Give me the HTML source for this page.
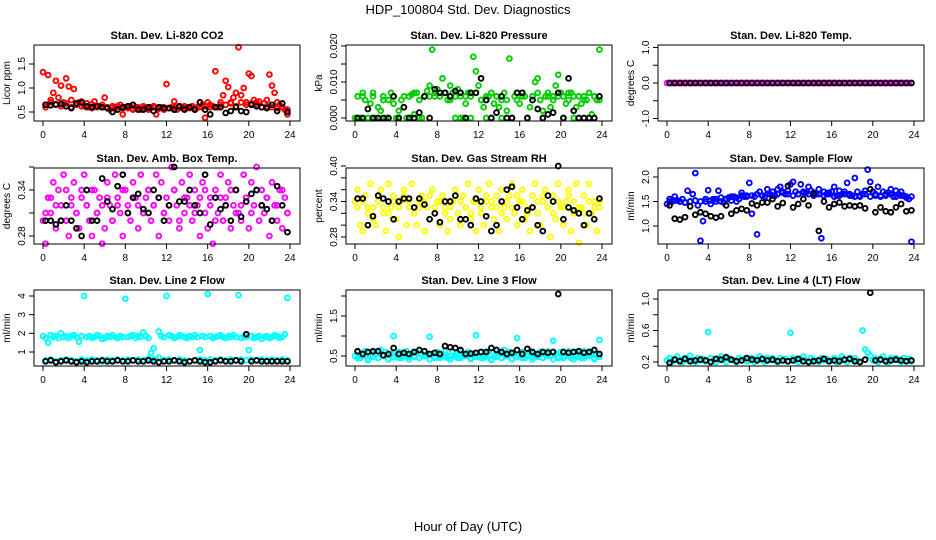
<!DOCTYPE html>
<html><head><meta charset="utf-8"><style>
body{margin:0;background:#fff;}
svg{display:block;font-family:"Liberation Sans",sans-serif;}
</style></head><body>
<svg id="c" width="936" height="540" viewBox="0 0 936 540">
<text x="468" y="14" text-anchor="middle" font-size="13">HDP_100804  Std. Dev. Diagnostics</text>
<text x="468" y="531" text-anchor="middle" font-size="13">Hour of Day (UTC)</text>
</svg>
<script>
const xTicks=[0,4,8,12,16,20,24];
const co2Red=[1.33,0.65,1.27,0.75,0.9,1.15,0.8,1.05,0.7,1.2,1.03,0.75,0.98,0.65,0.7,0.72,0.62,0.68,0.6,0.66,0.72,0.6,0.62,0.65,0.8,0.6,0.55,0.62,0.58,0.6,0.65,0.45,0.6,0.58,0.62,0.55,0.6,0.58,0.55,0.6,0.58,0.55,0.6,0.62,0.45,0.58,0.6,0.55,1.08,0.58,0.6,0.72,0.55,0.6,0.58,0.62,0.6,0.58,0.62,0.55,0.6,0.7,0.65,0.38,0.7,0.6,0.62,1.35,0.6,0.65,0.85,1.15,1.02,0.7,0.8,0.9,1.85,0.85,1.0,0.7,1.3,1.25,0.75,0.7,0.72,0.6,0.68,0.75,1.28,1.05,0.9,0.7,0.65,0.6,0.55,0.45];
const co2Red2=[0.6,0.7,0.65,0.62,0.68,0.6,0.65,0.62,0.6,0.58,0.62,0.6,0.58,0.6,0.62,0.58,0.6,0.57,0.6,0.62,0.58,0.6,0.57,0.6,0.58,0.6,0.62,0.58,0.6,0.58,0.6,0.62,0.65,0.6,0.7,0.65,0.68,0.62,0.7,0.65,0.68,0.65,0.6,0.62,0.6,0.58,0.6,0.55];
const co2Black=[0.65,0.64,0.66,0.67,0.62,0.58,0.68,0.7,0.62,0.6,0.62,0.6,0.58,0.5,0.55,0.6,0.62,0.65,0.55,0.55,0.6,0.52,0.6,0.58,0.58,0.55,0.62,0.55,0.6,0.55,0.7,0.55,0.45,0.6,0.6,0.48,0.52,0.6,0.52,0.5,0.65,0.62,0.6,0.58,0.65,0.52,0.68,0.5];
const presGreen=[0,0.006,0,0.007,0.005,0,0.004,0.006,0,0.003,0.002,0.006,0,0.005,0.007,0.004,0,0.002,0.005,0.003,0,0.006,0.0065,0.001,0.007,0.005,0,0.006,0.0075,0.009,0.019,0.006,0.008,0.006,0.011,0.007,0.005,0.009,0.007,0,0.008,0.006,0,0.004,0.007,0.006,0.017,0.013,0.009,0.005,0.003,0,0.006,0.007,0.004,0.006,0.003,0.005,0.007,0.002,0.0165,0,0.006,0.005,0.004,0.007,0.006,0,0.003,0.006,0.010,0.011,0.005,0.002,0.006,0.007,0.003,0.006,0.009,0.012,0.007,0.006,0.004,0.005,0.007,0.006,0.003,0.006,0.004,0.006,0.005,0.007,0.001,0.006,0.005,0.019];
const presGreen2=[0,0.006,0,0.007,0,0.005,0,0.006,0,0.006,0,0.007,0,0.006,0.006,0.007,0.006,0.007,0.005,0.006,0,0.006,0,0.007,0.005,0.006,0,0.006,0,0.005,0,0.007,0.006,0,0.006,0.007,0,0.006,0.005,0.006,0,0.007,0,0.006,0.005,0,0.006,0.005];
const presBlack=[0,0,0.0025,0,0,0,0,0.006,0,0.003,0,0,0.0015,0.006,0,0.008,0.007,0.007,0.006,0.0075,0.007,0,0.007,0.007,0.011,0.005,0,0.0015,0.006,0,0,0.007,0.007,0,0.005,0.0025,0,0.001,0.0015,0.007,0,0.011,0.002,0,0,0,0,0.006];
const tempMag=[0,0,0,0,0,0,0,0,0,0,0,0,0,0,0,0,0,0,0,0,0,0,0,0,0,0,0,0,0,0,0,0,0,0,0,0,0,0,0,0,0,0,0,0,0,0,0,0,0,0,0,0,0,0,0,0,0,0,0,0,0,0,0,0,0,0,0,0,0,0,0,0,0,0,0,0,0,0,0,0,0,0,0,0,0,0,0,0,0,0,0,0,0,0,0,0];
const tempBlack=[0,0,0,0,0,0,0,0,0,0,0,0,0,0,0,0,0,0,0,0,0,0,0,0,0,0,0,0,0,0,0,0,0,0,0,0,0,0,0,0,0,0,0,0,0,0,0,0];
const ambMag=[0.30,0.27,0.33,0.31,0.35,0.29,0.34,0.32,0.36,0.30,0.28,0.33,0.35,0.31,0.29,0.34,0.36,0.32,0.30,0.28,0.34,0.31,0.33,0.27,0.29,0.35,0.32,0.30,0.36,0.33,0.31,0.28,0.34,0.32,0.30,0.35,0.33,0.29,0.36,0.31,0.33,0.34,0.30,0.32,0.36,0.28,0.35,0.31,0.33,0.30,0.37,0.34,0.32,0.29,0.35,0.31,0.33,0.36,0.30,0.34,0.32,0.28,0.35,0.31,0.29,0.33,0.27,0.34,0.31,0.36,0.30,0.33,0.35,0.29,0.32,0.34,0.31,0.30,0.36,0.33,0.29,0.35,0.32,0.37,0.30,0.34,0.31,0.33,0.28,0.35,0.32,0.30,0.34,0.29,0.33,0.31];
const ambMag2=[0.31,0.33,0.32,0.30,0.34,0.32,0.31,0.33,0.32,0.34,0.31,0.32,0.33,0.30,0.32,0.34,0.31,0.33,0.32,0.31,0.34,0.32,0.33,0.31,0.32,0.34,0.30,0.33,0.32,0.31,0.33,0.34,0.32,0.30,0.33,0.32,0.34,0.31,0.32,0.33,0.31,0.34,0.32,0.33,0.30,0.32,0.34,0.31];
const ambBlack=[0.30,0.30,0.295,0.30,0.32,0.30,0.29,0.28,0.34,0.30,0.30,0.355,0.325,0.315,0.345,0.36,0.31,0.33,0.335,0.315,0.31,0.34,0.33,0.30,0.32,0.37,0.325,0.325,0.34,0.32,0.31,0.36,0.295,0.33,0.315,0.32,0.30,0.34,0.305,0.325,0.335,0.34,0.32,0.315,0.30,0.345,0.32,0.285];
const rhYellow=[0.34,0.36,0.30,0.29,0.35,0.33,0.37,0.31,0.30,0.34,0.36,0.32,0.29,0.37,0.33,0.35,0.31,0.28,0.34,0.36,0.30,0.33,0.37,0.32,0.30,0.34,0.35,0.29,0.33,0.31,0.36,0.32,0.34,0.30,0.35,0.33,0.29,0.31,0.34,0.36,0.32,0.30,0.35,0.33,0.37,0.31,0.34,0.29,0.36,0.32,0.30,0.34,0.37,0.33,0.31,0.35,0.29,0.36,0.33,0.31,0.35,0.37,0.32,0.30,0.34,0.36,0.31,0.33,0.29,0.35,0.37,0.32,0.30,0.34,0.36,0.33,0.28,0.35,0.31,0.37,0.33,0.30,0.34,0.36,0.29,0.32,0.37,0.27,0.33,0.35,0.30,0.37,0.32,0.34,0.29,0.33];
const rhYellow2=[0.33,0.34,0.32,0.33,0.35,0.33,0.32,0.34,0.33,0.35,0.34,0.32,0.33,0.34,0.35,0.33,0.34,0.32,0.33,0.35,0.34,0.33,0.32,0.34,0.33,0.35,0.34,0.33,0.32,0.34,0.33,0.35,0.34,0.32,0.33,0.34,0.35,0.33,0.32,0.34,0.33,0.35,0.34,0.33,0.32,0.34,0.33,0.34];
const rhBlack=[0.345,0.345,0.30,0.315,0.35,0.345,0.34,0.31,0.34,0.345,0.345,0.33,0.345,0.335,0.31,0.32,0.305,0.34,0.34,0.35,0.31,0.31,0.30,0.345,0.34,0.315,0.29,0.30,0.34,0.36,0.365,0.33,0.31,0.325,0.33,0.30,0.29,0.35,0.34,0.40,0.31,0.33,0.325,0.32,0.30,0.32,0.31,0.345];
const flowBlue=[1.45,1.55,1.5,1.6,1.52,1.5,1.55,1.48,1.72,1.5,1.65,2.08,1.42,0.7,1.1,1.5,1.73,1.45,1.55,1.5,1.72,1.5,1.48,1.55,1.58,1.52,1.6,1.5,1.55,1.68,1.6,1.62,1.88,1.25,1.6,0.83,1.7,1.62,1.6,1.75,1.65,1.7,1.62,1.75,1.8,1.7,1.65,1.72,1.85,1.9,1.7,1.65,1.85,1.7,1.68,1.8,1.72,1.68,1.65,1.75,0.75,1.7,1.65,1.68,1.7,1.8,1.62,1.72,1.65,1.7,1.88,1.65,1.62,1.98,1.7,1.6,1.65,1.72,2.15,1.9,1.7,1.65,1.8,1.62,1.7,1.65,1.68,1.75,1.6,1.72,1.65,1.7,1.62,1.6,1.55,0.68];
const flowBlue2=[1.5,1.52,1.5,1.48,1.5,1.52,1.5,1.55,1.52,1.55,1.58,1.55,1.6,1.58,1.62,1.6,1.62,1.65,1.62,1.65,1.62,1.65,1.68,1.65,1.62,1.65,1.68,1.65,1.62,1.65,1.62,1.65,1.6,1.62,1.65,1.62,1.6,1.62,1.65,1.6,1.62,1.6,1.62,1.65,1.6,1.62,1.58,1.6];
const flowBlack=[1.42,1.15,1.13,1.18,1.4,1.23,1.28,1.25,1.2,1.17,1.2,1.42,1.25,1.32,1.35,1.32,1.46,1.42,1.48,1.48,1.55,1.4,1.47,1.82,1.38,1.45,1.55,1.42,1.66,0.9,1.5,1.38,1.45,1.48,1.4,1.42,1.4,1.42,1.36,1.75,1.28,1.38,1.3,1.28,1.38,1.45,1.3,1.32];
const l2Cyan=[1.85,1.75,1.5,1.9,1.8,1.85,1.75,2.0,1.8,1.85,1.75,1.85,1.9,1.8,1.55,1.85,4.0,1.8,1.85,1.75,1.8,1.9,1.85,1.7,1.75,1.85,1.8,1.9,1.8,1.75,1.85,1.8,3.85,1.8,1.85,1.9,1.75,1.85,1.8,2.05,1.85,1.75,0.95,1.2,0.6,2.1,1.85,1.8,4.0,1.9,1.85,1.75,1.8,1.9,1.85,1.8,1.75,1.85,1.8,1.9,1.8,1.1,1.85,1.8,4.1,1.85,1.75,1.8,1.85,1.9,1.8,1.75,1.85,1.8,1.9,1.8,4.05,1.75,1.85,1.8,1.1,1.85,1.75,1.8,1.85,1.7,1.8,1.85,1.75,1.8,1.9,1.85,1.75,1.8,1.95,3.9];
const l2Cyan2=[0.55,0.6,0.5,0.55,0.6,0.55,0.5,0.6,0.55,0.6,0.55,0.5,0.6,0.55,0.6,0.55,0.6,0.55,0.6,0.55,0.65,0.6,0.7,0.55,0.6,0.55,0.6,0.55,0.5,0.55,0.6,0.55,0.6,0.55,0.6,0.55,0.6,0.55,0.6,0.55,0.6,0.55,0.6,0.55,0.6,0.55,0.6,0.55];
const l2Black=[0.5,0.55,0.45,0.5,0.55,0.5,0.45,0.5,0.45,0.5,0.5,0.55,0.5,0.5,0.55,0.5,0.5,0.55,0.5,0.5,0.55,0.5,0.45,0.5,0.5,0.55,0.5,0.45,0.5,0.55,0.5,0.45,0.45,0.5,0.55,0.5,0.5,0.55,0.5,1.95,0.5,0.55,0.5,0.5,0.5,0.5,0.5,0.5];
const l3Cyan=[0.5,0.6,0.45,0.55,0.62,0.4,0.5,0.58,0.55,0.45,0.65,0.5,0.6,0.42,0.55,1.0,0.52,0.6,0.45,0.55,0.62,0.48,0.55,0.5,0.6,0.45,0.55,0.62,0.5,0.98,0.55,0.45,0.6,0.5,0.55,0.62,0.45,0.5,0.6,0.55,0.45,0.62,0.5,0.55,0.6,0.45,0.55,1.02,0.5,0.6,0.45,0.55,0.62,0.4,0.5,0.58,0.55,0.45,0.65,0.5,0.6,0.42,0.55,0.95,0.52,0.6,0.45,0.55,0.62,0.48,0.55,0.5,0.6,0.45,0.55,0.62,0.5,0.88,0.55,0.45,0.6,0.5,0.55,0.62,0.45,0.5,0.6,0.55,0.45,0.62,0.5,0.55,0.6,0.45,0.55,0.9];
const l3Cyan2=[0.45,0.5,0.42,0.48,0.45,0.5,0.42,0.48,0.45,0.5,0.42,0.48,0.45,0.5,0.42,0.48,0.45,0.5,0.42,0.48,0.45,0.5,0.42,0.48,0.45,0.5,0.42,0.48,0.45,0.5,0.42,0.48,0.45,0.5,0.42,0.48,0.45,0.5,0.42,0.48,0.45,0.5,0.42,0.48,0.45,0.5,0.42,0.48];
const l3Black=[0.62,0.55,0.6,0.62,0.62,0.52,0.55,0.7,0.55,0.58,0.55,0.6,0.65,0.62,0.55,0.58,0.55,0.75,0.72,0.7,0.65,0.55,0.56,0.58,0.6,0.6,0.7,0.65,0.6,0.55,0.58,0.65,0.55,0.68,0.6,0.55,0.6,0.58,0.6,2.05,0.6,0.58,0.6,0.62,0.58,0.6,0.65,0.55];
const l4Cyan=[0.22,0.25,0.2,0.24,0.27,0.22,0.2,0.25,0.23,0.28,0.22,0.2,0.25,0.22,0.24,0.21,0.58,0.25,0.22,0.2,0.24,0.27,0.22,0.2,0.25,0.23,0.22,0.2,0.25,0.22,0.24,0.21,0.22,0.25,0.2,0.24,0.27,0.22,0.2,0.25,0.23,0.25,0.22,0.2,0.25,0.22,0.24,0.21,0.57,0.25,0.22,0.2,0.24,0.27,0.22,0.2,0.25,0.23,0.22,0.2,0.25,0.22,0.24,0.21,0.22,0.25,0.2,0.24,0.27,0.22,0.2,0.25,0.23,0.25,0.22,0.2,0.6,0.36,0.32,0.28,0.22,0.25,0.2,0.24,0.27,0.22,0.2,0.25,0.23,0.25,0.22,0.2,0.25,0.22,0.24,0.21];
const l4Black=[0.19,0.23,0.21,0.24,0.21,0.22,0.23,0.22,0.2,0.24,0.23,0.26,0.23,0.21,0.22,0.25,0.23,0.22,0.24,0.22,0.23,0.21,0.22,0.21,0.22,0.24,0.21,0.2,0.21,0.22,0.24,0.21,0.22,0.21,0.23,0.24,0.21,0.2,0.23,1.08,0.22,0.23,0.21,0.22,0.23,0.22,0.21,0.22];

const NS='http://www.w3.org/2000/svg';
const svg=document.getElementById('c');
function mk(tag,attrs,parent){const e=document.createElementNS(NS,tag);for(const k in attrs)e.setAttribute(k,attrs[k]);(parent||svg).appendChild(e);return e;}
const colX=[34,346,658], rowY=[45,168,290], W=266, H=76;
const panels=[
 {t:'Stan. Dev. Li-820 CO2',yl:'Licor ppm',c:0,r:0,v0:0.5,p0:112,v1:1.5,p1:64,ticks:[0.5,1.0,1.5],labs:['0.5','1.0','1.5'],col:'#ff0000',s:[co2Red,co2Red2],b:co2Black},
 {t:'Stan. Dev. Li-820 Pressure',yl:'kPa',c:1,r:0,v0:0,p0:118,v1:0.02,p1:46,ticks:[0,0.005,0.01,0.015,0.02],labs:['0.000','','0.010','','0.020'],col:'#00cd00',s:[presGreen,presGreen2],b:presBlack},
 {t:'Stan. Dev. Li-820 Temp.',yl:'degrees C',c:2,r:0,v0:0,p0:83,v1:1,p1:47.5,ticks:[-1,-0.5,0,0.5,1],labs:['-1.0','','0.0','','1.0'],col:'#ff00ff',s:[tempMag],b:tempBlack},
 {t:'Stan. Dev. Amb. Box Temp.',yl:'degrees C',c:0,r:1,v0:0.28,p0:236,v1:0.34,p1:190,ticks:[0.28,0.31,0.34,0.37],labs:['0.28','','0.34',''],col:'#ff00ff',s:[ambMag,ambMag2],b:ambBlack},
 {t:'Stan. Dev. Gas Stream RH',yl:'percent',c:1,r:1,v0:0.28,p0:237,v1:0.40,p1:166,ticks:[0.28,0.30,0.32,0.34,0.36,0.38,0.40],labs:['0.28','','','0.34','','','0.40'],col:'#ffff00',s:[rhYellow,rhYellow2],b:rhBlack},
 {t:'Stan. Dev. Sample Flow',yl:'ml/min',c:2,r:1,v0:1.0,p0:226,v1:2.0,p1:177,ticks:[1.0,1.5,2.0],labs:['1.0','1.5','2.0'],col:'#0000ff',s:[flowBlue,flowBlue2],b:flowBlack},
 {t:'Stan. Dev. Line 2 Flow',yl:'ml/min',c:0,r:2,v0:1,p0:352,v1:4,p1:296,ticks:[1,2,3,4],labs:['1','2','3','4'],col:'#00ffff',s:[l2Cyan,l2Cyan2],b:l2Black},
 {t:'Stan. Dev. Line 3 Flow',yl:'ml/min',c:1,r:2,v0:0.5,p0:356,v1:1.5,p1:316,ticks:[0.5,1.0,1.5,2.0],labs:['0.5','','1.5',''],col:'#00ffff',s:[l3Cyan,l3Cyan2],b:l3Black},
 {t:'Stan. Dev. Line 4 (LT) Flow',yl:'ml/min',c:2,r:2,v0:0.2,p0:362,v1:1.0,p1:299,ticks:[0.2,0.4,0.6,0.8,1.0],labs:['0.2','','0.6','','1.0'],col:'#00ffff',s:[l4Cyan],b:l4Black}
];
panels.forEach((p,pi)=>{
 const L=colX[p.c],T=rowY[p.r];
 const g=mk('g',{});
 
 
 const xs=h=>L+9+h*247/24;
 const ys=v=>p.p0+(v-p.v0)*(p.p1-p.p0)/(p.v1-p.v0);
 const tt=mk('text',{x:L+W/2,y:T-6,'text-anchor':'middle','font-size':11,'font-weight':'bold'},g);tt.textContent=p.t;
 
 
 p.s.forEach((arr,si)=>{
  arr.forEach((v,i)=>{
   const off=si===0?0:12/arr.length;
   const c=mk('circle',{cx:xs(off+i*24/arr.length),cy:ys(v),r:2.4,fill:'none',stroke:p.col,'stroke-width':1.9},g);
   
   
  });
 });
 p.b.forEach((v,i)=>{
  const c=mk('circle',{cx:xs(0.25+i*24/p.b.length),cy:ys(v),r:2.4,fill:'none',stroke:'#000','stroke-width':1.9},g);
  
  
 });
 const bx=mk('rect',{x:L,y:T,width:W,height:H,fill:'none',stroke:'#000','stroke-width':1},g);
 
 
 mk('line',{x1:xs(0),x2:xs(24),y1:T+H,y2:T+H,stroke:'#000'},g);
 xTicks.forEach(h=>{
  mk('line',{x1:xs(h),x2:xs(h),y1:T+H,y2:T+H+5,stroke:'#000'},g);
  const tx=mk('text',{x:xs(h),y:T+H+17,'text-anchor':'middle','font-size':10},g);tx.textContent=h;
  
  
 });
 p.ticks.forEach((v,i)=>{
  const y=ys(v);
  mk('line',{x1:L,x2:L-5,y1:y,y2:y,stroke:'#000'},g);
  if(p.labs[i]){
   const ty=mk('text',{x:L-9,y:y,'text-anchor':'middle','font-size':10,transform:`rotate(-90 ${L-9} ${y})`},g);ty.textContent=p.labs[i];
   
   
  }
 });
 const yc=T+H/2;
 const yt=mk('text',{x:L-24,y:yc,'text-anchor':'middle','font-size':10,transform:`rotate(-90 ${L-24} ${yc})`},g);yt.textContent=p.yl;
 
 
});
</script>
</body></html>
